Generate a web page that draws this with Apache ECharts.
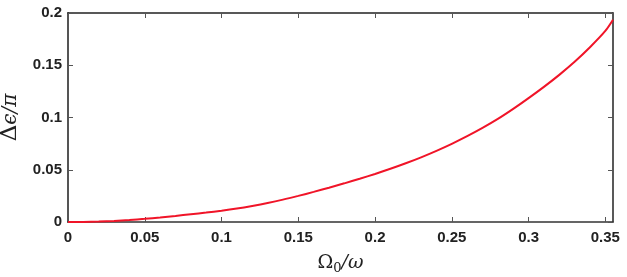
<!DOCTYPE html>
<html>
<head>
<meta charset="utf-8">
<script src="https://cdn.jsdelivr.net/npm/echarts@6/dist/echarts.min.js"></script>
<style>
  html, body { margin: 0; padding: 0; background: #fff; }
  #chart { width: 627px; height: 277px; }
</style>
</head>
<body>
<div id="chart"></div>
<script>
// values (step 0.01 on x, last point at the right edge)
const omegaRatio = [0, 0.01, 0.02, 0.03, 0.04, 0.05, 0.06, 0.07, 0.08, 0.09,
  0.1, 0.11, 0.12, 0.13, 0.14, 0.15, 0.16, 0.17, 0.18, 0.19,
  0.2, 0.21, 0.22, 0.23, 0.24, 0.25, 0.26, 0.27, 0.28, 0.29,
  0.3, 0.31, 0.32, 0.33, 0.34, 0.35, 0.355]
const deltaEps = [0, 0.0001, 0.0004, 0.001, 0.0019, 0.003, 0.0043, 0.0058, 0.0074, 0.009,
  0.0108, 0.0129, 0.0154, 0.0182, 0.0214, 0.025, 0.0288, 0.0328, 0.037, 0.0414,
  0.046, 0.0509, 0.0562, 0.0619, 0.0681, 0.0748, 0.0821, 0.09, 0.0986, 0.1082,
  0.1185, 0.1293, 0.1408, 0.1533, 0.1672, 0.1828, 0.1935]
const xTicks = [0, 0.05, 0.1, 0.15, 0.2, 0.25, 0.3, 0.35]
const yTicks = [0, 0.05, 0.1, 0.15, 0.2]

const myChart = echarts.init(document.getElementById('chart'))

const labelStyle = {
  color: '#222',
  fontFamily: 'Liberation Sans, Arial, sans-serif',
  fontWeight: 'bold',
  fontSize: 15
}

// box around the plot: top / right axes only carry ticks
const frameAxis = (pos, extra) => ({
  type: 'value',
  position: pos,
  interval: extra.interval,
  min: extra.min,
  max: extra.max,
  axisLine: { show: true, onZero: false, lineStyle: { color: '#222', width: 1.5 } },
  axisTick: { inside: true, length: 5, lineStyle: { color: '#555' } },
  axisLabel: { show: false },
  splitLine: { show: false }
})

const option = {
  animation: false,
  grid: { left: 68, right: 14, top: 13, bottom: 55, outerBoundsMode: 'none', containLabel: false },
  xAxis: [
    {
      type: 'value',
      min: 0,
      max: 0.355,
      interval: 0.05,
      name: '{u|Ω}{s|0}{i|/ω}',
      nameLocation: 'middle',
      nameGap: 30,
      nameTextStyle: {
        rich: {
          u: { fontFamily: 'DejaVu Serif', fontSize: 19, color: '#222' },
          s: { fontFamily: 'DejaVu Serif', fontSize: 13, color: '#222', padding: [10, 0, 0, 0] },
          i: { fontFamily: 'DejaVu Serif', fontStyle: 'italic', fontSize: 19, color: '#222' }
        }
      },
      axisLine: { onZero: false, lineStyle: { color: '#333', width: 1.5 } },
      axisTick: { inside: true, length: 5, lineStyle: { color: '#555' } },
      axisLabel: {
        ...labelStyle,
        margin: 8,
        showMaxLabel: false,
        formatter: v => (xTicks.includes(+v.toFixed(3)) ? String(+v.toFixed(3)) : '')
      },
      splitLine: { show: false }
    },
    frameAxis('top', { min: 0, max: 0.355, interval: 0.05 })
  ],
  yAxis: [
    {
      type: 'value',
      min: 0,
      max: 0.2,
      interval: 0.05,
      name: 'Δ{i|ϵ/π}',
      nameLocation: 'middle',
      nameRotate: 90,
      nameGap: 38,
      nameTextStyle: {
        fontFamily: 'DejaVu Serif',
        fontSize: 23,
        color: '#222',
        rich: {
          i: { fontFamily: 'DejaVu Serif', fontStyle: 'italic', fontSize: 20, color: '#222' }
        }
      },
      axisLine: { onZero: false, lineStyle: { color: '#555', width: 2 } },
      axisTick: { inside: true, length: 5, lineStyle: { color: '#555' } },
      axisLabel: {
        ...labelStyle,
        margin: 6,
        formatter: v => (yTicks.includes(+v.toFixed(3)) ? String(+v.toFixed(3)) : '')
      },
      splitLine: { show: false }
    },
    frameAxis('right', { min: 0, max: 0.2, interval: 0.05 })
  ],
  series: [
    {
      type: 'line',
      data: omegaRatio.map((x, i) => [x, deltaEps[i]]),
      smooth: 0.3,
      showSymbol: false,
      lineStyle: { color: '#f01428', width: 2 }
    }
  ]
}

myChart.setOption(option)
</script>
</body>
</html>
